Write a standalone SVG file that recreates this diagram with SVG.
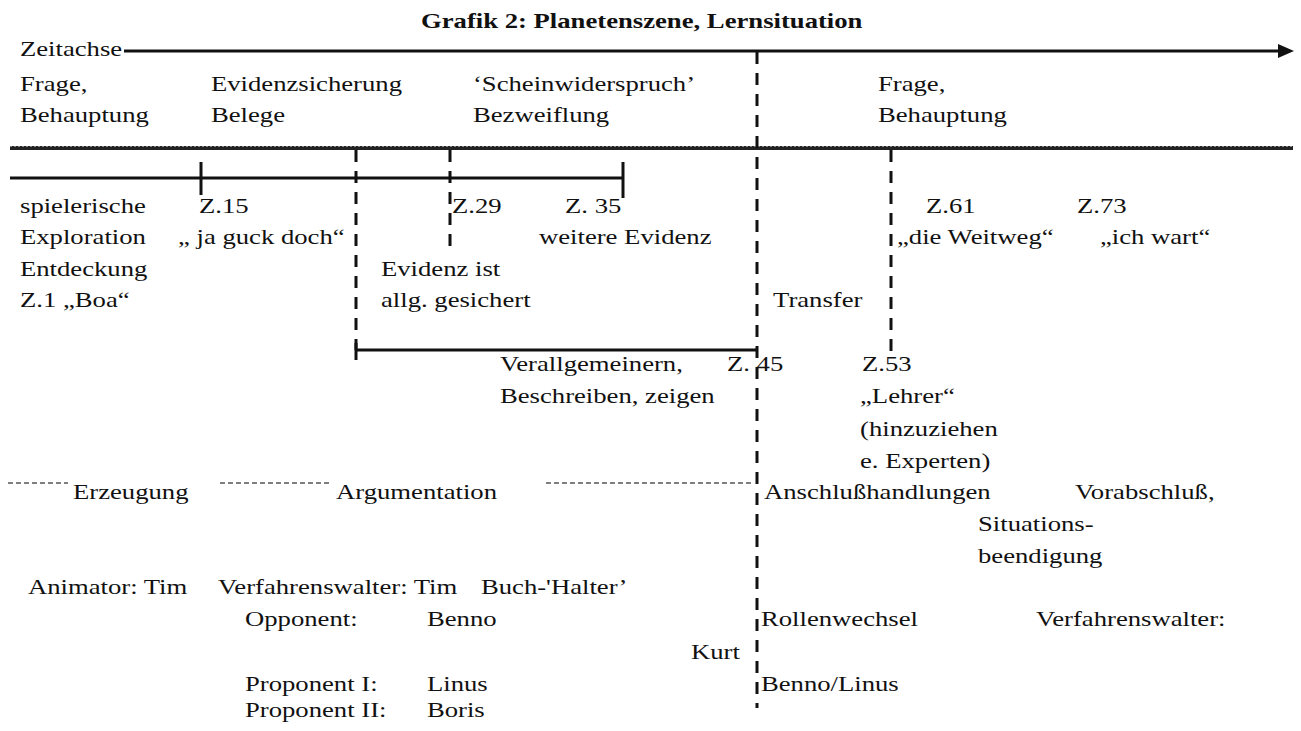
<svg xmlns="http://www.w3.org/2000/svg" width="1301" height="731" viewBox="0 0 1301 731">
<style>
text{font-family:"Liberation Serif","DejaVu Serif",serif;font-size:21px;fill:#111}
.t{font-weight:bold}
.ln{stroke:#111;stroke-width:3;fill:none}
.dash{stroke:#111;stroke-width:3;stroke-dasharray:12 9;fill:none}
.grey{stroke:#555;stroke-width:1.5;stroke-dasharray:5 3;fill:none}
</style>
<rect width="1301" height="731" fill="#fff"/>
<g id="lines">
<line class="ln" x1="124" y1="51" x2="1282" y2="51"/>
<polygon points="1278,44 1294,51 1278,58" fill="#111"/>
<line class="ln" x1="10" y1="148" x2="1293" y2="148" style="stroke-width:4;stroke:#222"/>
<line x1="10" y1="146.5" x2="1293" y2="146.5" stroke="#888" stroke-width="1" stroke-dasharray="2 2"/>
<line class="ln" x1="10" y1="178" x2="623" y2="178"/>
<line class="ln" x1="201" y1="162" x2="201" y2="195"/>
<line class="ln" x1="623" y1="162" x2="623" y2="198"/>
<line class="ln" x1="356" y1="350" x2="757" y2="350"/>
<line class="ln" x1="356" y1="343" x2="356" y2="360"/>
<line class="dash" x1="356" y1="150" x2="356" y2="350"/>
<line class="dash" x1="450" y1="150" x2="450" y2="248"/>
<line class="dash" x1="757" y1="52" x2="757" y2="708"/>
<line class="dash" x1="891" y1="150" x2="891" y2="356"/>
<line class="grey" x1="8" y1="483" x2="68" y2="483"/>
<line class="grey" x1="220" y1="483" x2="332" y2="483"/>
<line class="grey" x1="546" y1="483" x2="752" y2="483"/>
</g>
<g id="labels" transform="scale(1.27 1)">
<text class="t" x="331.5" y="28">Grafik 2: Planetenszene, Lernsituation</text>
<text x="15.75" y="56">Zeitachse</text>
<g id="header">
<text x="15.75" y="91">Frage,</text>
<text x="15.75" y="122">Behauptung</text>
<text x="166.1" y="91">Evidenzsicherung</text>
<text x="166.1" y="122">Belege</text>
<text x="372.4" y="91">‘Scheinwiderspruch’</text>
<text x="372.4" y="122">Bezweiflung</text>
<text x="691.3" y="91">Frage,</text>
<text x="691.3" y="122">Behauptung</text>
</g>
<g id="phase1">
<text x="15.75" y="213">spielerische</text>
<text x="15.75" y="244">Exploration</text>
<text x="15.75" y="276">Entdeckung</text>
<text x="15.75" y="307">Z.1 „Boa“</text>
<text x="156.7" y="213">Z.15</text>
<text x="140.2" y="244">„ ja guck doch“</text>
<text x="355.9" y="213">Z.29</text>
<text x="444.9" y="213">Z. 35</text>
<text x="424.4" y="244">weitere Evidenz</text>
<text x="300" y="276">Evidenz ist</text>
<text x="300" y="307">allg. gesichert</text>
<text x="608.7" y="307">Transfer</text>
<text x="729.1" y="213">Z.61</text>
<text x="848" y="213">Z.73</text>
<text x="706.3" y="244">„die Weitweg“</text>
<text x="866.1" y="244">„ich wart“</text>
</g>
<g id="phase2">
<text x="393.7" y="371">Verallgemeinern,</text>
<text x="393.7" y="403">Beschreiben, zeigen</text>
<text x="572.4" y="371">Z. 45</text>
<text x="678.7" y="371">Z.53</text>
<text x="677.2" y="403">„Lehrer“</text>
<text x="677.2" y="436">(hinzuziehen</text>
<text x="677.2" y="468">e. Experten)</text>
</g>
<g id="phases">
<text x="57.5" y="499">Erzeugung</text>
<text x="264.6" y="499">Argumentation</text>
<text x="601.6" y="499">Anschlußhandlungen</text>
<text x="846.5" y="499">Vorabschluß,</text>
<text x="770.1" y="531">Situations-</text>
<text x="770.1" y="563">beendigung</text>
</g>
<g id="roles">
<text x="22" y="594">Animator: Tim</text>
<text x="171.7" y="594">Verfahrenswalter: Tim</text>
<text x="378.7" y="594">Buch-'Halter’</text>
<text x="192.9" y="626">Opponent:</text>
<text x="336.2" y="626">Benno</text>
<text x="192.9" y="691">Proponent I:</text>
<text x="336.2" y="691">Linus</text>
<text x="192.9" y="717">Proponent II:</text>
<text x="336.2" y="717">Boris</text>
<text x="544.1" y="659">Kurt</text>
<text x="599.2" y="626">Rollenwechsel</text>
<text x="815.7" y="626">Verfahrenswalter:</text>
<text x="599.2" y="691">Benno/Linus</text>
</g>
</g>
</svg>
